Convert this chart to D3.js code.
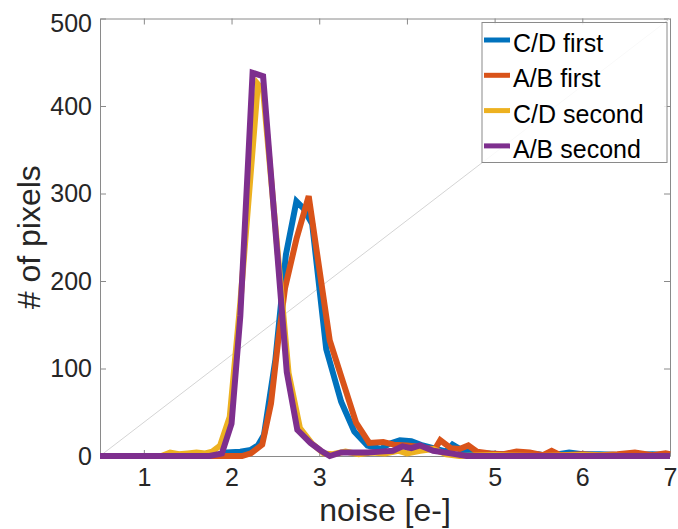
<!DOCTYPE html>
<html>
<head>
<meta charset="utf-8">
<script src="https://cdn.jsdelivr.net/npm/d3@7"></script>
<style>
  html, body { margin: 0; padding: 0; background: #fff; }
  svg { display: block; font-family: "Liberation Sans", Arial, Helvetica, sans-serif; }
</style>
</head>
<body>
<svg id="chart" width="678" height="529"></svg>
<script>
// Noise histograms: number of pixels per noise bin for each amplifier pair / read.
const seriesNames = ["C/D first", "A/B first", "C/D second", "A/B second"];
const seriesColors = ["#0072BD", "#D95319", "#EDB120", "#7E2F8E"];

const cdFirstX = [0.5, 1.5, 1.9, 1.95, 2.1, 2.22, 2.3, 2.37, 2.5, 2.62, 2.74, 2.82, 2.92, 3.08, 3.25, 3.4, 3.55, 3.7, 3.8, 3.92, 4.05, 4.18, 4.3, 4.45, 4.52, 4.62, 4.75, 4.9, 5.1, 5.3, 5.5, 5.6, 5.85, 6.0, 6.2, 6.5, 6.8, 7.0];
const cdFirstY = [0, 0, 0, 4, 5, 7, 12, 24, 110, 230, 291, 283, 265, 122, 62, 28, 12, 8, 14, 18, 17, 12, 9, 5, 13, 7, 4, 3, 2, 2, 2, 0, 4, 2, 2, 1, 2, 1];

const abFirstX = [0.5, 1.5, 2.0, 2.12, 2.22, 2.35, 2.45, 2.53, 2.61, 2.74, 2.88, 3.12, 3.27, 3.42, 3.57, 3.73, 3.85, 4.0, 4.1, 4.2, 4.32, 4.38, 4.5, 4.6, 4.7, 4.8, 4.95, 5.1, 5.25, 5.4, 5.55, 5.65, 5.75, 6.0, 6.2, 6.4, 6.6, 6.8, 6.95, 7.0];
const abFirstY = [0, 0, 0, 0, 3, 13, 60, 130, 192, 248, 297, 132, 85, 38, 15, 16, 13, 12, 11, 9, 8, 18, 9, 8, 12, 5, 3, 2, 5, 4, 1, 6, 1, 2, 1, 2, 4, 1, 3, 2];

const cdSecondX = [0.5, 1.0, 1.2, 1.3, 1.4, 1.5, 1.6, 1.7, 1.78, 1.87, 1.98, 2.1, 2.3, 2.36, 2.65, 2.78, 2.92, 3.05, 3.15, 3.3, 3.45, 3.6, 3.75, 3.9, 4.0, 4.15, 4.3, 4.45, 4.6, 5.0, 5.5, 6.0, 6.5, 7.0];
const cdSecondY = [0, 0, 0, 4, 2, 3, 4, 3, 5, 12, 45, 175, 425, 418, 95, 32, 14, 3, 2, 5, 2, 4, 3, 6, 3, 6, 8, 2, 0, 1, 0, 1, 0, 0];

const abSecondX = [0.5, 1.0, 1.5, 1.75, 1.89, 2.0, 2.1, 2.24, 2.36, 2.63, 2.75, 2.9, 3.02, 3.12, 3.25, 3.4, 3.55, 3.7, 3.84, 3.95, 4.05, 4.15, 4.3, 4.5, 4.68, 5.0, 5.5, 6.0, 6.5, 7.0];
const abSecondY = [0, 0, 0, 0, 3, 37, 160, 438, 434, 96, 30, 15, 6, 0, 4, 4, 4, 5, 6, 11, 9, 12, 6, 3, 0, 0, 0, 0, 0, 0];

const xTicks = [1, 2, 3, 4, 5, 6, 7];
const yTicks = [0, 100, 200, 300, 400, 500];

const seriesX = [cdFirstX, abFirstX, cdSecondX, abSecondX];
const seriesY = [cdFirstY, abFirstY, cdSecondY, abSecondY];

const svg = d3.select("#chart");
const W = 678, H = 529;
const margin = { left: 100, right: 8, top: 18.5, bottom: 73 };
const innerW = W - margin.left - margin.right;
const innerH = H - margin.top - margin.bottom;

const x = d3.scaleLinear().domain([0.5, 7]).range([0, innerW]);
const y = d3.scaleLinear().domain([0, 500]).range([innerH, 0]);

const g = svg.append("g").attr("transform", `translate(${margin.left},${margin.top})`);

const axisColor = "#8a8a8a";
const textColor = "#262626";
const tickLen = 6;

function styleAxis(sel, fontSize) {
  sel.attr("font-family", null).attr("font-size", null);
  sel.select(".domain").attr("stroke", axisColor).attr("stroke-width", 1);
  sel.selectAll(".tick line").attr("stroke", axisColor).attr("stroke-width", 1);
  sel.selectAll(".tick text").attr("fill", textColor).style("font-size", fontSize + "px");
}

// Box and inward ticks on all four sides
g.append("g").attr("transform", `translate(0,${innerH})`)
  .call(d3.axisBottom(x).tickValues(xTicks).tickFormat(d3.format("d")).tickSizeInner(-tickLen).tickSizeOuter(0).tickPadding(12))
  .call(s => styleAxis(s, 25));
g.append("g")
  .call(d3.axisLeft(y).tickValues(yTicks).tickFormat(d3.format("d")).tickSizeInner(-tickLen).tickSizeOuter(0).tickPadding(8))
  .call(s => styleAxis(s, 25))
  // keep the topmost label clear of the figure edge
  .call(s => s.selectAll(".tick text").filter(d => d === 500).attr("dy", "0.5em"));
g.append("g")
  .call(d3.axisTop(x).tickValues(xTicks).tickFormat("").tickSizeInner(-tickLen).tickSizeOuter(0))
  .call(s => styleAxis(s, 25));
g.append("g").attr("transform", `translate(${innerW},0)`)
  .call(d3.axisRight(y).tickValues(yTicks).tickFormat("").tickSizeInner(-tickLen).tickSizeOuter(0))
  .call(s => styleAxis(s, 25));

// Faint reference diagonal across the axes
g.append("line")
  .attr("x1", x(0.5)).attr("y1", y(0))
  .attr("x2", x(7)).attr("y2", y(500))
  .attr("stroke", "#d4d4d4").attr("stroke-width", 1);

// Histogram curves
const line = d3.line().x(d => x(d[0])).y(d => y(d[1]));
seriesNames.forEach((name, i) => {
  const pts = seriesX[i].map((xv, j) => [xv, seriesY[i][j]]);
  g.append("path")
    .datum(pts)
    .attr("d", line)
    .attr("fill", "none")
    .attr("stroke", seriesColors[i])
    .attr("stroke-width", 6)
    .attr("stroke-linejoin", "miter");
});

// Axis titles
svg.append("text")
  .attr("x", margin.left + innerW / 2).attr("y", 521)
  .attr("text-anchor", "middle")
  .attr("fill", textColor)
  .style("font-size", "32px")
  .text("noise [e-]");
svg.append("text")
  .attr("transform", `translate(40,${margin.top + innerH / 2}) rotate(-90)`)
  .attr("text-anchor", "middle")
  .attr("fill", textColor)
  .style("font-size", "32px")
  .text("# of pixels");

// Legend
const legend = svg.append("g");
legend.append("rect")
  .attr("x", 482).attr("y", 22.5).attr("width", 185).attr("height", 140)
  .attr("fill", "#fff").attr("fill-opacity", 0.85)
  .attr("stroke", "#8a8a8a").attr("stroke-width", 1);
seriesNames.forEach((name, i) => {
  const ly = 40 + i * 35.3;
  legend.append("line")
    .attr("x1", 484).attr("x2", 510).attr("y1", ly).attr("y2", ly)
    .attr("stroke", seriesColors[i]).attr("stroke-width", 5);
  legend.append("text")
    .attr("x", 513).attr("y", ly + 12)
    .attr("fill", "#000")
    .style("font-size", "25px")
    .text(name);
});
</script>
</body>
</html>
